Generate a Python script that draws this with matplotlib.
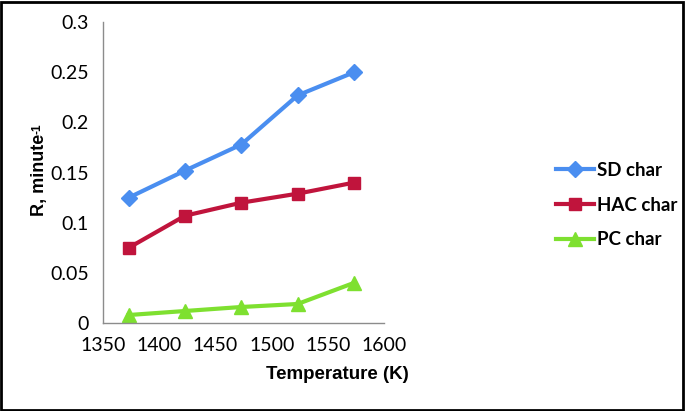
import matplotlib
matplotlib.use("Agg")
import matplotlib.pyplot as plt
from matplotlib.patches import Rectangle

temps = [1373, 1423, 1473, 1523, 1573]
sd_char = [0.125, 0.152, 0.178, 0.227, 0.250]
hac_char = [0.075, 0.107, 0.120, 0.129, 0.140]
pc_char = [0.008, 0.012, 0.016, 0.019, 0.040]
series_names = ["SD char", "HAC char", "PC char"]

plt.rcParams['font.family'] = ['Lato', 'DejaVu Sans']

fig = plt.figure(figsize=(6.85, 4.11), dpi=100)
ax = fig.add_axes([0.150, 0.214, 0.411, 0.732])

ax.plot(temps, sd_char, color='#4a8ef0', lw=3, marker='D', ms=8, label=series_names[0])
ax.plot(temps, hac_char, color='#c0143c', lw=3, marker='s', ms=8, label=series_names[1])
ax.plot(temps, pc_char, color='#7ee030', lw=3, marker='^', ms=10, label=series_names[2])

ax.set_xlim(1350, 1600)
ax.set_ylim(0, 0.3)
ax.set_xticks([1350, 1400, 1450, 1500, 1550, 1600])
ax.set_yticks([0, 0.05, 0.1, 0.15, 0.2, 0.25, 0.3])
ax.set_yticklabels(['0', '0.05', '0.1', '0.15', '0.2', '0.25', '0.3'])
ax.tick_params(labelsize=14, length=0, pad=10)
for s in ['top', 'right']:
    ax.spines[s].set_visible(False)
for s in ['left', 'bottom']:
    ax.spines[s].set_color('#8c8c8c')
    ax.spines[s].set_linewidth(1)

fig.text(0.492, 0.088, "Temperature (K)", ha='center', va='center', fontsize=13.5,
         fontweight='bold', family='Liberation Sans')
# y label with a hyphen superscript drawn as a second small text
ylab = fig.text(0.058, 0.575, "R, minute", ha='center', va='center', rotation=90,
                fontsize=13, fontweight='bold', family='Liberation Sans')
ax.annotate("-1", xy=(0.0, 1.0), xycoords=ylab, ha='left', va='bottom', rotation=90,
            fontsize=8.5, fontweight='bold', family='Liberation Sans')

leg = ax.legend(loc='center left', bbox_to_anchor=(1.55, 0.392), frameon=False,
                prop={'size': 13.5, 'weight': 'bold'}, handlelength=2.0, handletextpad=0.2,
                labelspacing=0.95)

fig.patches.append(Rectangle((0.002, 0.003), 0.995, 0.993, transform=fig.transFigure,
                             fill=False, edgecolor='black', lw=2))

fig.savefig("out.png", dpi=100)
